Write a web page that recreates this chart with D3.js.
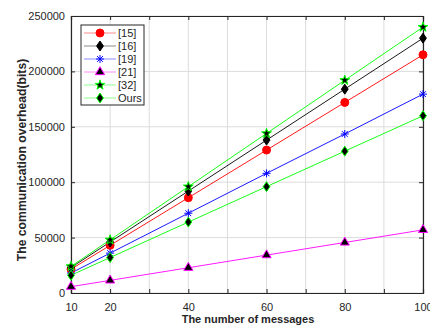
<!doctype html>
<html>
<head>
  <meta charset="utf-8">
  <title>communication overhead</title>
  <style>
    body { margin: 0; background: #fff; }
    svg { display: block; font-family: "Liberation Sans", Arial, sans-serif; }
    .grid line { stroke: #dcdcdc; stroke-width: 1; }
    .tick text { fill: #262626; font-size: 11px; }
  </style>
</head>
<body>
  <div id="chart"></div>
  <script src="https://d3js.org/d3.v7.min.js"></script>
  <script>
    // data
    const messages = [10, 20, 40, 60, 80, 100];
    const ref15 = [21500, 43000, 86000, 129000, 172000, 215000];
    const ref16 = [23000, 46000, 92000, 138000, 184000, 230000];
    const ref19 = [18000, 36000, 72000, 108000, 143500, 179500];
    const ref21 = [5700, 11400, 22800, 34200, 45600, 57000];
    const ref32 = [24000, 48000, 96000, 144000, 192000, 240000];
    const ours = [16000, 32000, 64000, 96000, 128000, 160000];

    const xTicks = [10, 20, 30, 40, 50, 60, 70, 80, 90, 100];
    const xTickLabels = ['10', '20', '', '40', '', '60', '', '80', '', '100'];
    const yTicks = [0, 50000, 100000, 150000, 200000, 250000];

    const series = [
      { name: '[15]', values: ref15, line: '#ff0000', marker: 'circle', fill: '#ff0000', edge: '#ff0000' },
      { name: '[16]', values: ref16, line: '#000000', marker: 'diamond', fill: '#000000', edge: '#000000' },
      { name: '[19]', values: ref19, line: '#0000ff', marker: 'asterisk', fill: 'none', edge: '#0000ff' },
      { name: '[21]', values: ref21, line: '#ff00ff', marker: 'triangle', fill: '#000000', edge: '#ff00ff' },
      { name: '[32]', values: ref32, line: '#00ff00', marker: 'star', fill: '#000000', edge: '#00ff00' },
      { name: 'Ours', values: ours, line: '#00ff00', marker: 'diamond', fill: '#000000', edge: '#00ff00' }
    ];

    const W = 430, H = 327;
    const m = { left: 71, right: 7, top: 16, bottom: 34 };
    const iw = W - m.left - m.right;
    const ih = H - m.top - m.bottom;

    const svg = d3.select('#chart').append('svg').attr('width', W).attr('height', H);
    const g = svg.append('g').attr('transform', `translate(${m.left},${m.top})`);

    const x = d3.scaleLinear().domain([10, 100]).range([0, iw]);
    const y = d3.scaleLinear().domain([0, 250000]).range([ih, 0]);

    // grid
    g.append('g').attr('class', 'grid')
      .selectAll('line.v').data(xTicks).join('line')
      .attr('x1', d => x(d)).attr('x2', d => x(d)).attr('y1', 0).attr('y2', ih);
    g.append('g').attr('class', 'grid')
      .selectAll('line.h').data(yTicks).join('line')
      .attr('x1', 0).attr('x2', iw).attr('y1', d => y(d)).attr('y2', d => y(d));

    // axes
    const axisColor = '#262626';
    const xAxis = g.append('g').attr('transform', `translate(0,${ih})`)
      .call(d3.axisBottom(x).tickValues(xTicks).tickSize(-4).tickPadding(8)
        .tickFormat((d, i) => xTickLabels[i]));
    const xTop = g.append('g')
      .call(d3.axisTop(x).tickValues(xTicks).tickSize(-4).tickFormat(''));
    const yAxis = g.append('g')
      .call(d3.axisLeft(y).tickValues(yTicks).tickSize(-4).tickPadding(6).tickFormat(d3.format('d')));
    const yRight = g.append('g').attr('transform', `translate(${iw},0)`)
      .call(d3.axisRight(y).tickValues(yTicks).tickSize(-4).tickFormat(''));
    [xAxis, xTop, yAxis, yRight].forEach(a => {
      a.select('.domain').attr('stroke', axisColor).attr('stroke-width', 1.2);
      a.selectAll('.tick line').attr('stroke', axisColor);
    });
    xAxis.selectAll('.tick text').attr('dy', '0.9em');

    // marker shapes
    const markerPath = (type) => {
      switch (type) {
        case 'circle': return d3.symbol(d3.symbolCircle, 50)();
        case 'diamond': return 'M0,-5L3.4,0L0,5L-3.4,0Z';
        case 'triangle': return d3.symbol(d3.symbolTriangle, 36)();
        case 'star': return d3.symbol(d3.symbolStar, 30)();
        case 'asterisk': return 'M-4,0H4M0,-4V4M-2.9,-2.9L2.9,2.9M-2.9,2.9L2.9,-2.9';
      }
    };

    const line = d3.line().x((d, i) => x(messages[i])).y(d => y(d));

    series.forEach(s => {
      g.append('path').datum(s.values)
        .attr('d', line).attr('fill', 'none')
        .attr('stroke', s.line).attr('stroke-width', 0.9);
    });
    series.forEach(s => {
      g.append('g').selectAll('path').data(s.values).join('path')
        .attr('transform', (d, i) => `translate(${x(messages[i])},${y(d)})`)
        .attr('d', markerPath(s.marker))
        .attr('fill', s.fill)
        .attr('stroke', s.edge)
        .attr('stroke-width', 1);
    });

    // legend
    const lg = g.append('g').attr('transform', 'translate(10,9)');
    lg.append('rect').attr('width', 63).attr('height', 80)
      .attr('fill', '#fff').attr('stroke', axisColor).attr('stroke-width', 1);
    const items = lg.selectAll('g.item').data(series).join('g')
      .attr('transform', (d, i) => `translate(0,${8 + i * 13})`);
    items.append('line').attr('x1', 3).attr('x2', 35).attr('y1', 0).attr('y2', 0)
      .attr('stroke', d => d.line).attr('stroke-width', 1).attr('opacity', 0.45);
    items.append('path').attr('transform', 'translate(19,0)')
      .attr('d', d => markerPath(d.marker))
      .attr('fill', d => d.fill).attr('stroke', d => d.edge).attr('stroke-width', 1);
    items.append('text').attr('x', 37).attr('y', 4)
      .attr('font-size', 11).attr('fill', '#262626').text(d => d.name);

    // axis titles
    svg.append('text')
      .attr('x', m.left + iw / 2 + 1).attr('y', H - 4)
      .attr('text-anchor', 'middle').attr('font-size', 11).attr('font-weight', 'bold')
      .attr('fill', '#262626').text('The number of messages');
    svg.append('text')
      .attr('transform', 'translate(26,160) rotate(-90)')
      .attr('text-anchor', 'middle').attr('font-size', 12.2).attr('font-weight', 'bold')
      .attr('fill', '#262626').text('The communication overhead(bits)');
  </script>
</body>
</html>
